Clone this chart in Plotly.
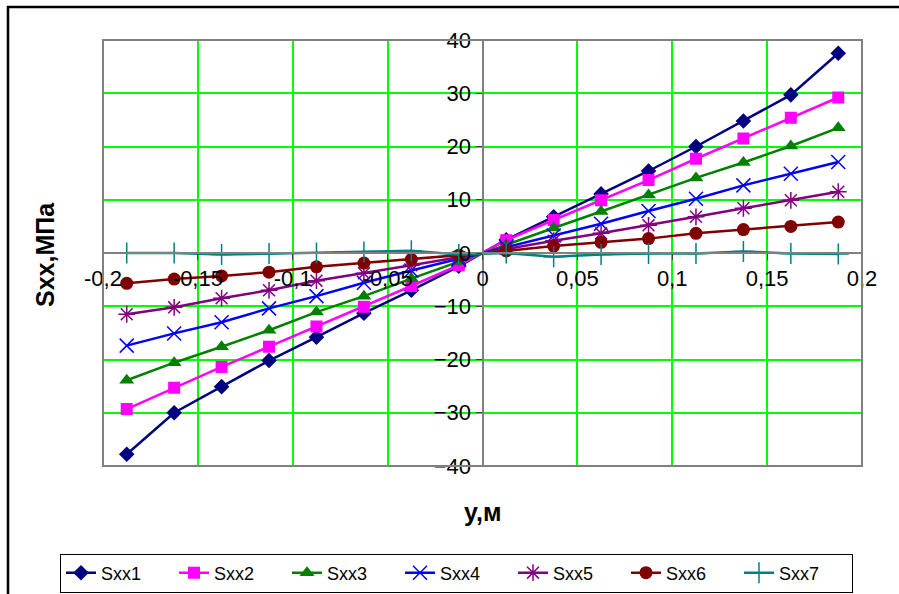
import plotly.graph_objects as go

y_m = [-0.1875, -0.1625, -0.1375, -0.1125, -0.0875, -0.0625, -0.0375, -0.0125,
       0.0125, 0.0375, 0.0625, 0.0875, 0.1125, 0.1375, 0.1625, 0.1875]

sxx1 = [-37.8, -30.0, -25.1, -20.2, -15.8, -11.3, -7.0, -2.5,
        2.5, 6.8, 11.1, 15.4, 20.0, 24.8, 29.7, 37.5]
sxx2 = [-29.3, -25.3, -21.4, -17.6, -13.8, -10.1, -6.2, -2.3,
        2.4, 6.2, 9.9, 13.7, 17.7, 21.5, 25.4, 29.2]
sxx3 = [-23.9, -20.6, -17.6, -14.5, -11.1, -8.1, -4.8, -1.6,
        1.6, 4.7, 7.8, 10.9, 14.1, 17.0, 20.1, 23.5]
sxx4 = [-17.4, -15.1, -13.0, -10.4, -8.1, -5.6, -3.3, -1.1,
        1.1, 3.3, 5.5, 7.9, 10.2, 12.7, 14.9, 17.1]
sxx5 = [-11.5, -10.2, -8.5, -7.0, -5.2, -3.8, -2.3, -0.8,
        0.8, 2.3, 3.7, 5.2, 6.8, 8.4, 9.9, 11.5]
sxx6 = [-5.7, -4.9, -4.3, -3.6, -2.6, -1.9, -1.2, -0.4,
        0.4, 1.3, 2.0, 2.7, 3.7, 4.4, 5.0, 5.8]
sxx7 = [0.0, 0.0, -0.3, -0.1, 0.0, 0.2, 0.4, -0.3,
        0.0, -0.7, -0.3, -0.1, -0.1, 0.3, -0.1, -0.2]

names = ["Sxx1", "Sxx2", "Sxx3", "Sxx4", "Sxx5", "Sxx6", "Sxx7"]
series = [sxx1, sxx2, sxx3, sxx4, sxx5, sxx6, sxx7]
colors = ["#000080", "#FF00FF", "#008000", "#0000FF", "#800080", "#800000", "#008080"]
symbols = ["diamond", "square", "triangle-up", "x-thin", "asterisk", "circle", "cross-thin"]
sizes = [12, 12, 13, 14, 14, 13, 15]

x_ticks = [-0.2, -0.15, -0.1, -0.05, 0, 0.05, 0.1, 0.15, 0.2]
x_ticklabels = ["-0,2", "-0,15", "-0,1", "-0,05", "0", "0,05", "0,1", "0,15", "0,2"]
y_ticks = [-40, -30, -20, -10, 0, 10, 20, 30, 40]

fig = go.Figure()
for name, vals, c, s, sz in zip(names, series, colors, symbols, sizes):
    thin = s in ("x-thin", "asterisk", "cross-thin")
    fig.add_trace(go.Scatter(
        x=y_m, y=vals, name=name, mode="lines+markers",
        line=dict(color=c, width=2.5),
        marker=dict(symbol=s, size=sz, color=c,
                    line=dict(color=c, width=1.5 if thin else 0)),
    ))

L, R, T, B = 103, 37, 40, 128
W, H = 899, 594
pw, ph = W - L - R, H - T - B

def px(xp):
    return (xp - L) / pw

def py(yp):
    return (H - B - yp) / ph

fig.update_layout(
    width=W, height=H,
    margin=dict(l=L, r=R, t=T, b=B, autoexpand=False),
    paper_bgcolor="white", plot_bgcolor="white",
    font=dict(family="Liberation Sans, Arial, sans-serif", color="black", size=22),
    separators=", ",
    showlegend=True,
    legend=dict(orientation="h", x=px(60), y=py(573), xanchor="left", yanchor="middle",
                bordercolor="black", borderwidth=1, font=dict(size=18),
                entrywidth=68, entrywidthmode="pixels",
                tracegroupgap=0, bgcolor="white"),
    xaxis=dict(range=[-0.2, 0.2], tickvals=x_ticks, ticktext=x_ticklabels,
               showgrid=True, gridcolor="#00FF00", gridwidth=1.5,
               zeroline=False, showline=True, linecolor="#808080", linewidth=2,
               anchor="free", position=0.5, ticks="outside", ticklen=6,
               tickcolor="#404040", tickfont=dict(size=22)),
    yaxis=dict(range=[-40, 40], tickvals=y_ticks,
               showgrid=True, gridcolor="#00FF00", gridwidth=1.5,
               zeroline=False, showline=True, linecolor="#808080", linewidth=2,
               anchor="free", position=0.5, ticks="outside", ticklen=6,
               tickcolor="#404040", tickfont=dict(size=22)),
    shapes=[
        dict(type="rect", xref="paper", yref="paper", x0=0, x1=1, y0=0, y1=1,
             line=dict(color="#808080", width=2), layer="above"),
        dict(type="rect", xref="paper", yref="paper",
             x0=px(8), x1=px(910), y0=py(610), y1=py(7),
             line=dict(color="black", width=2.5)),
    ],
    annotations=[
        dict(text="<b>y,м</b>", xref="paper", yref="paper", x=px(483), y=py(512),
             showarrow=False, font=dict(size=25), xanchor="center", yanchor="middle"),
        dict(text="<b>Sxx,МПа</b>", xref="paper", yref="paper", x=px(45), y=py(255),
             showarrow=False, font=dict(size=25), textangle=-90,
             xanchor="center", yanchor="middle"),
    ],
)

fig.write_html("out.html", config={"displayModeBar": False},
               post_script="document.body.style.margin='0px';document.body.style.overflow='hidden';")
